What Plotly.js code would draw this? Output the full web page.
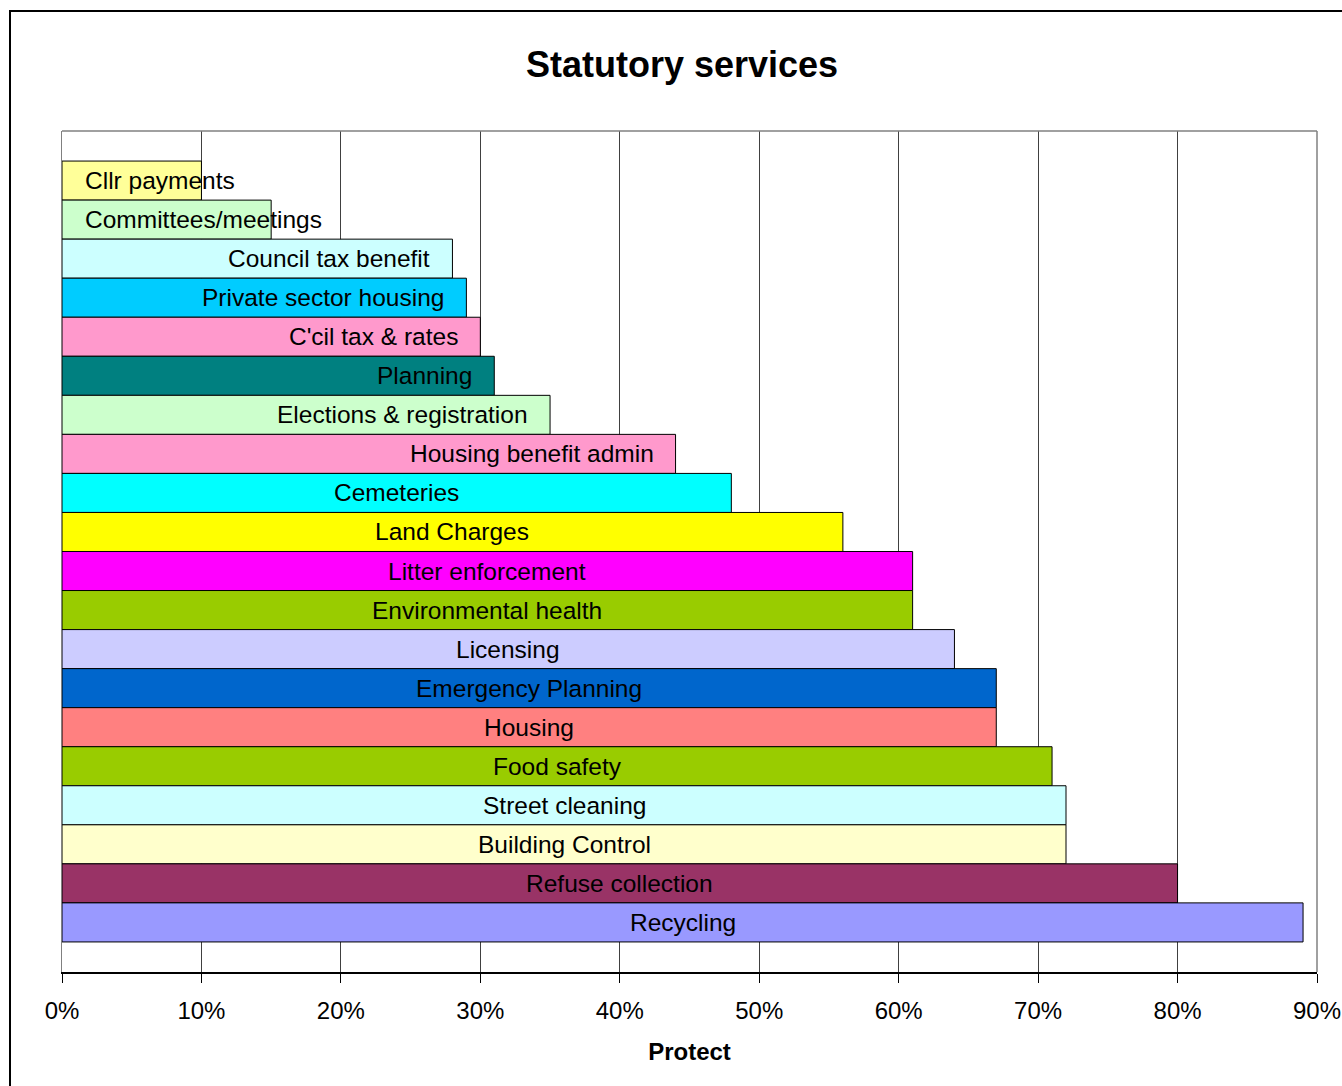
<!DOCTYPE html>
<html>
<head>
<meta charset="utf-8">
<script src="https://cdn.plot.ly/plotly-3.0.1.min.js"></script>
<style>
  html, body { margin: 0; padding: 0; background: #fff; }
  #wrap { position: relative; width: 1342px; height: 1086px; overflow: hidden; }
  #chart { position: absolute; left: 0; top: 0; width: 1342px; height: 1086px; }
  #frame { position: absolute; left: 9px; top: 10px; width: 1400px; height: 1200px;
           border-left: 2px solid #000; border-top: 2px solid #000; pointer-events: none; }
</style>
</head>
<body>
<div id="wrap">
  <div id="chart"></div>
  <div id="frame"></div>
</div>
<script>
// Categories listed from top to bottom
const services = [
  "Cllr payments", "Committees/meetings", "Council tax benefit", "Private sector housing",
  "C'cil tax & rates", "Planning", "Elections & registration", "Housing benefit admin",
  "Cemeteries", "Land Charges", "Litter enforcement", "Environmental health",
  "Licensing", "Emergency Planning", "Housing", "Food safety",
  "Street cleaning", "Building Control", "Refuse collection", "Recycling"
];
// Share answering "Protect" (fraction)
const protect = [
  0.10, 0.15, 0.28, 0.29,
  0.30, 0.31, 0.35, 0.44,
  0.48, 0.56, 0.61, 0.61,
  0.64, 0.67, 0.67, 0.71,
  0.72, 0.72, 0.80, 0.89
];
const barColors = [
  "#FFFF99", "#CCFFCC", "#CCFFFF", "#00CCFF",
  "#FF99CC", "#008080", "#CCFFCC", "#FF99CC",
  "#00FFFF", "#FFFF00", "#FF00FF", "#99CC00",
  "#CCCCFF", "#0066CC", "#FF8080", "#99CC00",
  "#CCFFFF", "#FFFFCC", "#993366", "#9999FF"
];
const tickVals = [0, 0.1, 0.2, 0.3, 0.4, 0.5, 0.6, 0.7, 0.8, 0.9];
const tickText = ["0%", "10%", "20%", "30%", "40%", "50%", "60%", "70%", "80%", "90%"];

const FONT = "Liberation Sans, Arial, sans-serif";

const trace = {
  type: "bar",
  orientation: "h",
  y: services,
  x: protect,
  marker: { color: barColors, line: { color: "#000", width: 1 } },
  hoverinfo: "y+x",
  showlegend: false
};

// Category labels drawn on the bars (placement rule by bar length)
const annotations = services.map((name, i) => {
  const v = protect[i];
  let a = { y: name, yref: "y", xref: "x", text: name, showarrow: false,
            font: { family: FONT, size: 24.5, color: "#000" }, yanchor: "middle" };
  if (v < 0.2) { a.x = 0; a.xanchor = "left"; a.xshift = 21; }
  else if (v < 0.45) { a.x = v; a.xanchor = "right"; a.xshift = -20; }
  else { a.x = v / 2; a.xanchor = "center"; }
  return a;
});

const layout = {
  width: 1342, height: 1086,
  margin: { l: 62, r: 25, t: 131, b: 114 },
  paper_bgcolor: "#fff", plot_bgcolor: "#fff",
  font: { family: FONT, color: "#000" },
  bargap: 0,
  title: {
    text: "<b>Statutory services</b>",
    font: { family: FONT, size: 36, color: "#000" },
    x: 682 / 1342, xref: "container", xanchor: "center",
    y: 1 - 64 / 1086, yref: "container", yanchor: "middle"
  },
  xaxis: {
    range: [0, 0.9],
    tickvals: tickVals, ticktext: tickText,
    tickfont: { family: FONT, size: 24, color: "#000" },
    ticks: "outside", ticklen: 9, tickcolor: "#000", tickwidth: 1,
    ticklabelstandoff: 7,
    showline: true, linecolor: "#000", linewidth: 2,
    showgrid: true, gridcolor: "#404040", gridwidth: 1,
    zeroline: false,
    title: { text: "<b>Protect</b>", font: { family: FONT, size: 24, color: "#000" }, standoff: 20 },
    automargin: false, fixedrange: true
  },
  yaxis: {
    type: "category",
    range: [20.27, -1.27],
    showticklabels: false, ticks: "",
    showline: true, linecolor: "#808080", linewidth: 1,
    showgrid: false, zeroline: false,
    automargin: false, fixedrange: true
  },
  shapes: [
    { type: "line", xref: "paper", yref: "paper", x0: 0, x1: 1, y0: 1, y1: 1,
      line: { color: "#808080", width: 1.5 } },
    { type: "line", xref: "paper", yref: "paper", x0: 1, x1: 1, y0: 0, y1: 1,
      line: { color: "#808080", width: 1.5 } }
  ],
  annotations: annotations
};

Plotly.newPlot("chart", [trace], layout, { displayModeBar: false, staticPlot: true });
</script>
</body>
</html>
